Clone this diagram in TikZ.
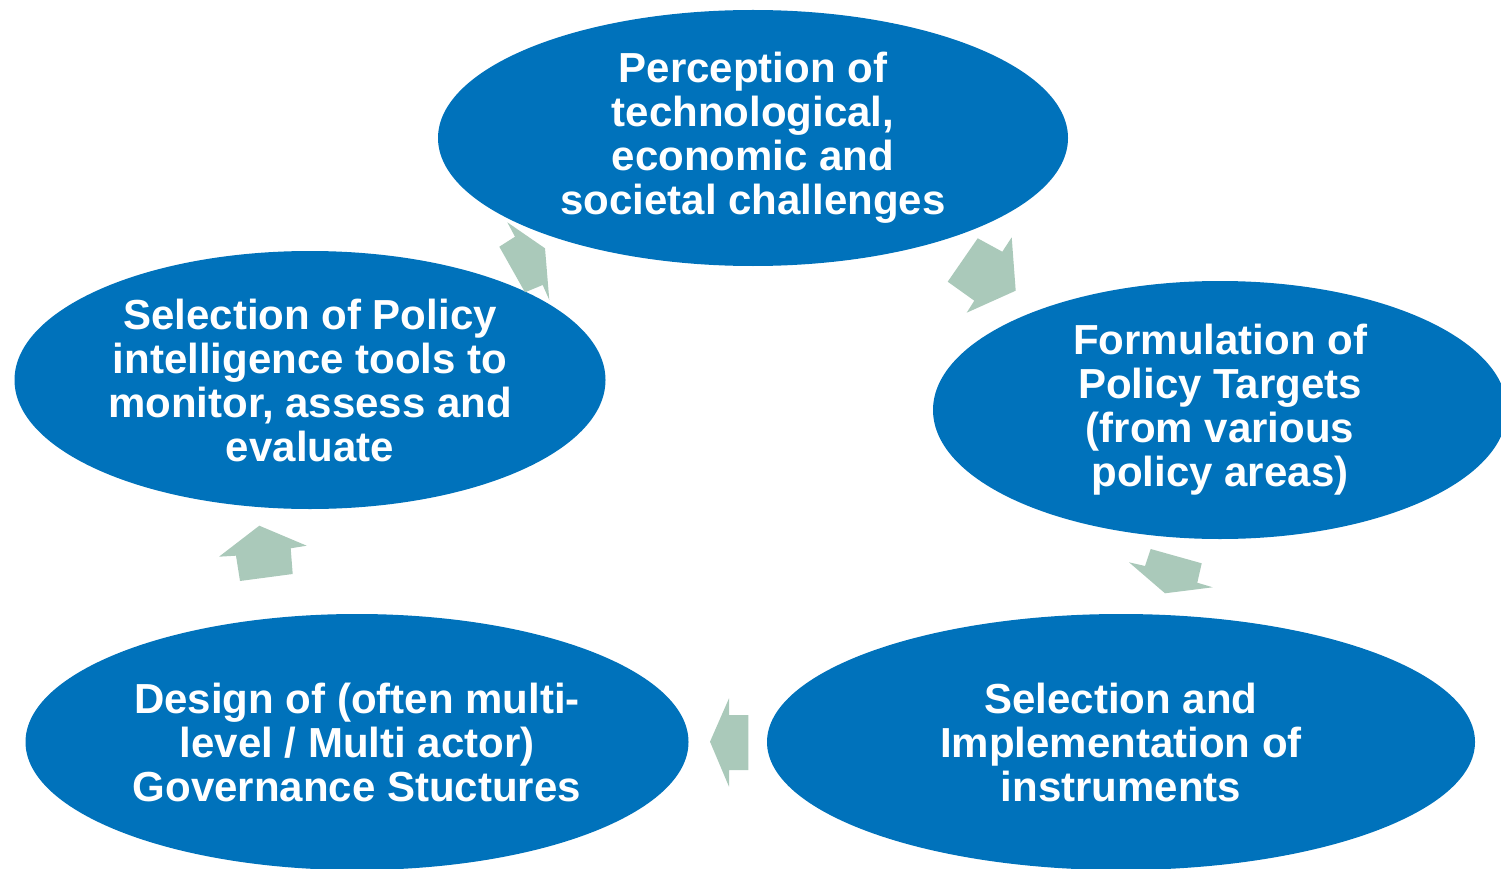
\documentclass[tikz,border=0pt]{standalone}
\usepackage{fontspec}
\setmainfont{Liberation Sans}
\usetikzlibrary{shapes.geometric}
\definecolor{cycblue}{RGB}{0,114,187}
\definecolor{arrgreen}{RGB}{170,201,186}
\tikzset{
  stage/.style={ellipse, fill=cycblue, draw=none, inner sep=0pt, text=white,
    align=center, font=\fontsize{42}{44}\selectfont\bfseries},
  blockarrow/.style={fill=arrgreen, draw=none}
}
\begin{document}
\begin{tikzpicture}[x=1pt,y=-1pt]
\useasboundingbox (0,0) rectangle (1501,869);
\clip (0,0) rectangle (1501,869);
\node[stage, minimum width=630pt, minimum height=256pt] (top) at (753,138)
  {Perception of\\technological,\\economic and\\societal challenges};
\node[stage, minimum width=574pt, minimum height=258pt] (right) at (1220,410)
  {Formulation of\\Policy Targets\\(from various\\policy areas)};
\node[stage, minimum width=708pt, minimum height=256pt] (botright) at (1121,742)
  {Selection and\\Implementation of\\instruments};
\node[stage, minimum width=663pt, minimum height=256pt] (botleft) at (357,742)
  {Design of (often multi-\\level / Multi actor)\\Governance Stuctures};
\node[stage, minimum width=591pt, minimum height=258pt] (left) at (310,380)
  {Selection of Policy\\intelligence tools to\\monitor, assess and\\evaluate};
% block arrows
\fill[blockarrow] (507.3,222.3) -- (515,236.7) -- (499.3,246.7) -- (525,292.3)
  -- (542.7,285) -- (549.3,300) -- (545,248.3) -- cycle;
\fill[blockarrow] (977.7,238.3) -- (1002.3,251.7) -- (1011.7,237.3) -- (1015.7,290.7)
  -- (966.7,312.7) -- (974.3,300.7) -- (947.7,281.7) -- cycle;
\fill[blockarrow] (1150.7,549) -- (1201.7,563.3) -- (1197.3,582.7) -- (1212.7,587.3)
  -- (1165,593.3) -- (1129,562.3) -- (1145,566) -- cycle;
\fill[blockarrow] (710,741.7) -- (729,698.3) -- (729,715) -- (748.3,715)
  -- (748.3,770) -- (729,770) -- (729,786.7) -- cycle;
\fill[blockarrow] (259.3,525.7) -- (306.7,545.7) -- (290.7,548.3) -- (292.7,574)
  -- (240,581) -- (236,555.7) -- (219,556.7) -- cycle;
\end{tikzpicture}
\end{document}
